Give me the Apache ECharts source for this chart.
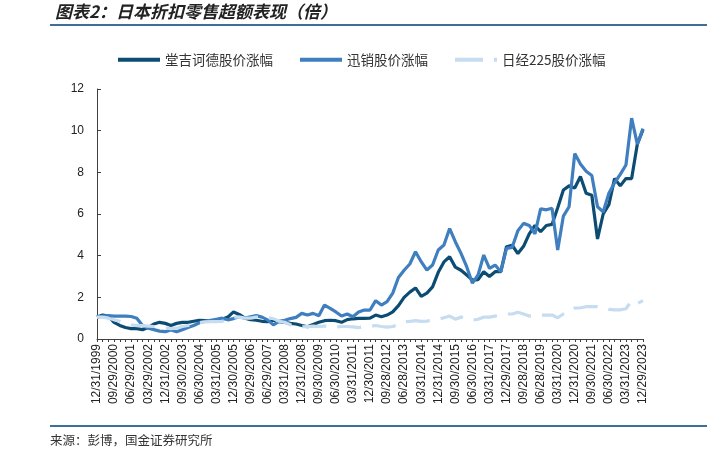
<!DOCTYPE html>
<html>
<head>
<meta charset="utf-8">
<script src="https://cdn.jsdelivr.net/npm/echarts@6/dist/echarts.min.js"></script>
<style>
html,body{margin:0;padding:0;background:#fff;}
#c{width:715px;height:460px;}
</style>
</head>
<body>
<div id="c"></div>
<script>
var dates = [
"12/31/1999",
"03/31/2000","06/30/2000","09/29/2000","12/29/2000",
"03/30/2001","06/29/2001","09/28/2001","12/28/2001",
"03/29/2002","06/28/2002","09/30/2002","12/31/2002",
"03/31/2003","06/30/2003","09/30/2003","12/31/2003",
"03/31/2004","06/30/2004","09/30/2004","12/31/2004",
"03/31/2005","06/30/2005","09/30/2005","12/30/2005",
"03/31/2006","06/30/2006","09/29/2006","12/29/2006",
"03/30/2007","06/29/2007","09/28/2007","12/31/2007",
"03/31/2008","06/30/2008","09/30/2008","12/31/2008",
"03/31/2009","06/30/2009","09/30/2009","12/31/2009",
"03/31/2010","06/30/2010","09/30/2010","12/31/2010",
"03/31/2011","06/30/2011","09/30/2011","12/30/2011",
"03/30/2012","06/29/2012","09/28/2012","12/31/2012",
"03/29/2013","06/28/2013","09/30/2013","12/31/2013",
"03/31/2014","06/30/2014","09/30/2014","12/31/2014",
"03/31/2015","06/30/2015","09/30/2015","12/31/2015",
"03/31/2016","06/30/2016","09/30/2016","12/30/2016",
"03/31/2017","06/30/2017","09/29/2017","12/29/2017",
"03/30/2018","06/29/2018","09/28/2018","12/31/2018",
"03/29/2019","06/28/2019","09/30/2019","12/31/2019",
"03/31/2020","06/30/2020","09/30/2020","12/31/2020",
"03/31/2021","06/30/2021","09/30/2021","12/31/2021",
"03/31/2022","06/30/2022","09/30/2022","12/30/2022",
"03/31/2023","06/30/2023","09/29/2023","12/29/2023"
];

var donQuijote = [
1.05,1.15,1.1,0.8,0.65,0.55,0.5,0.5,0.45,0.55,
0.72,0.8,0.75,0.65,0.75,0.8,0.8,0.85,0.9,0.88,
0.86,0.9,0.95,1.05,1.3,1.18,1.0,0.93,0.9,0.85,
0.83,0.9,0.83,0.8,0.75,0.72,0.65,0.59,0.7,0.8,
0.88,0.9,0.88,0.8,0.93,0.97,0.99,0.99,1.0,1.15,
1.07,1.15,1.3,1.6,2.0,2.25,2.45,2.05,2.2,2.5,
3.2,3.7,3.95,3.45,3.3,3.07,2.83,2.85,3.23,3.0,
3.23,3.23,4.43,4.5,4.1,4.45,5.05,5.45,5.15,5.45,
5.5,6.3,7.15,7.35,7.25,7.8,7.0,6.9,4.8,6.0,
6.45,7.7,7.35,7.7,7.7,9.35,10.05
];

var fastRetailing = [
1.05,1.1,1.12,1.1,1.1,1.1,1.08,1.0,0.65,0.52,
0.45,0.38,0.35,0.43,0.35,0.45,0.55,0.65,0.78,0.85,
0.9,0.95,1.0,0.92,0.98,1.07,1.0,1.07,1.12,1.05,
0.92,0.68,0.85,0.9,0.98,1.04,1.23,1.15,1.23,1.12,
1.63,1.47,1.3,1.1,1.2,1.07,1.3,1.39,1.39,1.84,
1.63,1.79,2.2,2.95,3.3,3.6,4.19,3.71,3.31,3.55,
4.27,4.51,5.3,4.67,4.11,3.47,2.68,3.07,4.03,3.39,
3.55,3.23,4.35,4.4,5.2,5.55,5.45,5.05,6.25,6.2,
6.28,4.27,5.9,6.35,8.9,8.4,8.05,7.85,6.35,6.1,
7.0,7.5,7.9,8.35,10.6,9.35,10.1
];

var nikkei = [
1.05,1.05,1.0,0.92,0.85,0.75,0.68,0.64,0.64,0.62,
0.6,0.55,0.52,0.5,0.52,0.6,0.65,0.72,0.78,0.82,
0.83,0.83,0.85,0.95,1.05,1.05,1.0,1.0,1.05,1.07,
1.02,0.98,0.85,0.8,0.68,0.6,0.58,0.6,0.62,0.6,
0.62,0.6,0.58,0.6,0.6,0.58,0.55,0.6,0.6,0.65,
0.6,0.57,0.6,0.7,0.83,0.85,0.88,0.85,0.86,0.9,
0.95,1.02,1.1,0.95,1.05,0.95,0.9,0.95,1.05,1.05,
1.1,1.15,1.2,1.2,1.28,1.2,1.1,1.12,1.15,1.15,
1.15,1.02,1.2,1.3,1.48,1.5,1.55,1.55,1.55,1.5,
1.42,1.4,1.4,1.45,1.84,1.7,1.84
];

var seriesNames = ["堂吉诃德股价涨幅", "迅销股价涨幅", "日经225股价涨幅"];
var yTicks = {min: 0, max: 12, interval: 2};

var chart = echarts.init(document.getElementById('c'), null, {renderer: 'canvas'});
var cjk = "'Noto Sans CJK SC', 'Noto Sans', sans-serif";
var lat = "'Liberation Sans', Arial, sans-serif";
var solidIcon = 'path://M0,0 L42,0 L42,4 L0,4 Z';
var dashIcon = 'path://M0,0 L28,0 L28,4 L0,4 Z M39,0 L42,0 L42,4 L39,4 Z';

chart.setOption({
  animation: false,
  backgroundColor: '#ffffff',
  grid: {left: 97, right: 72, top: 89, bottom: 121, containLabel: false},
  legend: {
    left: 113, top: 48,
    itemWidth: 42, itemHeight: 4, itemGap: 27,
    textStyle: {fontFamily: cjk, fontSize: 13.5, color: '#333'},
    data: [
      {name: seriesNames[0], icon: solidIcon},
      {name: seriesNames[1], icon: solidIcon},
      {name: seriesNames[2], icon: dashIcon}
    ]
  },
  xAxis: {
    type: 'category',
    boundaryGap: false,
    data: dates,
    axisLine: {lineStyle: {color: '#404040', width: 1}},
    axisTick: {show: true, interval: 0, length: 3, lineStyle: {color: '#404040'}},
    axisLabel: {interval: 2, rotate: 90, fontSize: 12, fontFamily: lat, color: '#222', margin: 5},
    splitLine: {show: false}
  },
  yAxis: {
    type: 'value',
    min: yTicks.min, max: yTicks.max, interval: yTicks.interval,
    axisLine: {show: true, lineStyle: {color: '#404040', width: 1}},
    axisTick: {show: true, inside: true, length: 4, lineStyle: {color: '#404040'}},
    axisLabel: {fontSize: 12, fontFamily: lat, color: '#222', margin: 13},
    splitLine: {show: false}
  },
  series: [
    {name: seriesNames[0], type: 'line', data: donQuijote, symbol: 'none',
     lineStyle: {color: '#0d4c72', width: 3.2}, itemStyle: {color: '#0d4c72'}},
    {name: seriesNames[1], type: 'line', data: fastRetailing, symbol: 'none',
     lineStyle: {color: '#3f7fc0', width: 3.2}, itemStyle: {color: '#3f7fc0'}},
    {name: seriesNames[2], type: 'line', data: nikkei, symbol: 'none',
     lineStyle: {color: '#c6dcf0', width: 3.2, type: [24, 11]}, itemStyle: {color: '#c6dcf0'}}
  ],
  graphic: [
    {type: 'text', left: 55, top: 3,
     style: {text: '图表2：日本折扣零售超额表现（倍）', fontFamily: cjk, fontSize: 17, fontWeight: 'bold', fontStyle: 'italic', fill: '#222'}},
    {type: 'rect', shape: {x: 50, y: 24, width: 657, height: 2}, style: {fill: '#3f6f96'}},
    {type: 'rect', shape: {x: 50, y: 425, width: 657, height: 2}, style: {fill: '#3f6f96'}},
    {type: 'text', left: 50, top: 434,
     style: {text: '来源：彭博，国金证券研究所', fontFamily: cjk, fontSize: 12.5, fill: '#333'}}
  ]
});
</script>
</body>
</html>
